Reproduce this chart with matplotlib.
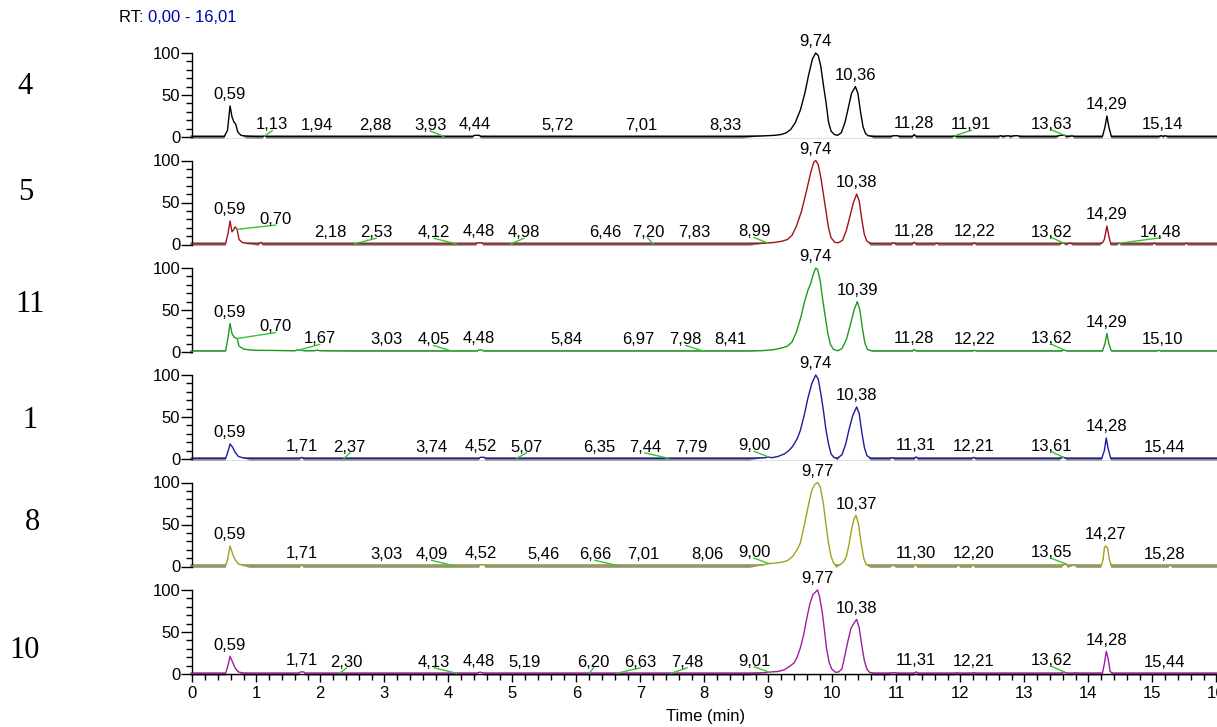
import numpy as np
import matplotlib
matplotlib.use("Agg")
import matplotlib.pyplot as plt
from matplotlib.ticker import FixedLocator, MultipleLocator

plt.rcParams['font.family'] = ['Liberation Sans', 'DejaVu Sans']

# ---------------------------------------------------------------- data
samples = ['4', '5', '11', '1', '8', '10']
colors = ['#000000', '#a01418', '#1f9a1f', '#1c1ca0', '#a3a01c', '#a01ca0']

# chromatogram vertices: retention time (min) and relative abundance (%)
t_4 = [0.00, 0.50, 0.55, 0.59, 0.62, 0.65, 0.68, 0.71, 0.76, 0.85, 1.00, 1.10, 1.13, 1.16,
       4.38, 4.41, 4.48, 4.51, 8.60, 8.90, 9.10, 9.20, 9.28, 9.35, 9.42, 9.50, 9.57, 9.63,
       9.69, 9.74, 9.78, 9.82, 9.86, 9.90, 9.94, 9.98, 10.03, 10.08, 10.14, 10.20, 10.25,
       10.30, 10.36, 10.40, 10.44, 10.48, 10.52, 10.56, 10.65, 10.92, 10.95, 11.02, 11.05,
       11.25, 11.28, 11.31, 11.88, 11.91, 11.94, 12.60, 12.63, 12.66, 12.75, 12.78, 12.85,
       12.90, 12.93, 13.50, 13.56, 13.63, 13.66, 13.75, 13.78, 14.22, 14.26, 14.29, 14.32,
       14.36, 15.10, 15.14, 15.17, 15.20, 15.24, 16.01]
y_4 = [0.6, 0.6, 8, 37, 24, 18, 15, 6, 2, 1, 0.6, 0.6, 1.2, 0.6,
       0.6, 2, 2, 0.6, 0.6, 1.2, 2, 3, 5, 9, 17, 32, 52, 74,
       93, 100, 97, 84, 62, 42, 18, 7, 3, 2, 5, 18, 35,
       52, 60, 52, 30, 12, 4, 1.5, 0.6, 0.6, 1.5, 1.5, 0.6,
       0.6, 3, 0.6, 0.6, 1.5, 0.6, 0.6, 1.5, 0.6, 1.5, 0.6, 1.5,
       1.5, 0.6, 0.6, 2, 2, 0.6, 1.2, 0.6, 0.6, 12, 25, 12,
       0.6, 0.6, 1.5, 0.6, 1.5, 0.6, 0.6]

t_5 = [0.00, 0.52, 0.56, 0.59, 0.62, 0.64, 0.67, 0.70, 0.73, 0.78, 0.86, 1.04, 1.07, 1.10,
       4.43, 4.46, 4.52, 4.55, 8.70, 8.95, 9.10, 9.22, 9.30, 9.37, 9.44, 9.52, 9.60, 9.66,
       9.71, 9.74, 9.78, 9.82, 9.86, 9.90, 9.94, 9.98, 10.04, 10.09, 10.16, 10.22, 10.27,
       10.33, 10.38, 10.42, 10.46, 10.50, 10.54, 10.60, 10.70, 10.92, 10.95, 11.00, 11.25,
       11.28, 11.31, 11.60, 11.63, 11.66, 12.19, 12.22, 12.25, 13.55, 13.60, 13.65, 13.72,
       13.76, 14.18, 14.22, 14.25, 14.29, 14.32, 14.35, 14.45, 14.48, 14.51, 15.00, 15.03,
       15.06, 15.50, 15.53, 15.56, 16.01]
y_5 = [0.8, 0.8, 14, 28, 15, 17, 21, 18, 6, 2.5, 1.2, 0.8, 2.5, 0.8,
       0.8, 2, 2, 0.8, 0.8, 1.5, 2.5, 4, 6, 11, 22, 40, 65, 85,
       98, 100, 95, 80, 60, 40, 20, 8, 2.5, 2, 5, 17, 32,
       50, 60, 52, 30, 12, 4, 1, 0.8, 0.8, 2, 0.8, 0.8,
       2.5, 0.8, 0.8, 1.5, 0.8, 0.8, 1.8, 0.8, 0.8, 2, 0.8, 1.5,
       0.8, 0.8, 2, 6, 22, 10, 0.8, 0.8, 1.5, 0.8, 0.8, 1.5,
       0.8, 0.8, 1.3, 0.8, 0.8]

t_11 = [0.00, 0.52, 0.56, 0.59, 0.62, 0.65, 0.70, 0.73, 0.80, 0.90, 1.00, 1.30, 1.60, 1.64,
        1.70, 1.74, 1.90, 1.95, 2.00, 2.50, 4.45, 4.48, 4.52, 4.55, 8.70, 8.95, 9.10, 9.22,
        9.30, 9.37, 9.44, 9.51, 9.57, 9.62, 9.66, 9.70, 9.74, 9.77, 9.81, 9.85, 9.89, 9.93,
        9.97, 10.02, 10.08, 10.15, 10.22, 10.28, 10.34, 10.39, 10.43, 10.47, 10.51, 10.55,
        10.62, 11.25, 11.28, 11.31, 12.19, 12.22, 12.25, 13.58, 13.62, 13.66, 14.22, 14.26,
        14.29, 14.32, 14.36, 15.07, 15.10, 15.13, 16.01]
y_11 = [1.2, 1.2, 18, 34, 22, 18, 16, 7, 3.5, 2.5, 2, 1.8, 1.5, 2.5,
        2.5, 1.5, 1.5, 2.2, 1.5, 1.2, 1.2, 2.5, 2.5, 1.2, 1.2, 1.8, 3, 5,
        7, 12, 24, 42, 61, 74, 81, 92, 100, 98, 85, 62, 42, 22,
        9, 3, 1.5, 4, 15, 32, 50, 60, 50, 28, 10, 3,
        1.2, 1.2, 3, 1.2, 1.2, 2, 1.2, 1.2, 2.5, 1.2, 1.2, 10,
        22, 10, 1.2, 1.2, 2, 1.2, 1.2]

t_1 = [0.00, 0.52, 0.55, 0.59, 0.63, 0.67, 0.72, 0.80, 0.90, 1.68, 1.71, 1.74, 4.48, 4.50,
       4.56, 4.58, 8.70, 8.95, 9.00, 9.05, 9.15, 9.25, 9.32, 9.38, 9.45, 9.50, 9.56, 9.62,
       9.68, 9.74, 9.78, 9.82, 9.86, 9.90, 9.94, 9.98, 10.03, 10.08, 10.15, 10.21, 10.26,
       10.32, 10.38, 10.42, 10.46, 10.50, 10.54, 10.60, 10.70, 10.90, 10.93, 10.98, 11.28,
       11.31, 11.34, 12.18, 12.21, 12.24, 13.55, 13.61, 13.66, 14.21, 14.25, 14.28, 14.31,
       14.35, 16.01]
y_1 = [0.8, 0.8, 7, 18, 14, 8, 3, 1.2, 0.8, 0.8, 2, 0.8, 0.8, 2,
       2, 0.8, 0.8, 1.5, 2.5, 1.5, 3, 6, 10, 15, 24, 34, 52, 73,
       90, 100, 95, 78, 58, 35, 18, 6, 1.5, 1, 5, 18, 35,
       52, 62, 54, 32, 14, 4, 1, 0.8, 0.8, 1.5, 0.8, 0.8,
       2.5, 0.8, 0.8, 2, 0.8, 0.8, 2, 0.8, 0.8, 10, 25, 12,
       0.8, 0.8]

t_8 = [0.00, 0.52, 0.55, 0.59, 0.63, 0.67, 0.72, 0.80, 0.90, 1.68, 1.71, 1.74, 4.48, 4.50,
       4.56, 4.58, 8.70, 8.90, 9.00, 9.10, 9.20, 9.30, 9.38, 9.45, 9.50, 9.55, 9.60, 9.64,
       9.68, 9.73, 9.77, 9.81, 9.86, 9.90, 9.94, 9.98, 10.02, 10.06, 10.12, 10.18, 10.22,
       10.26, 10.30, 10.34, 10.37, 10.41, 10.45, 10.49, 10.53, 10.60, 10.90, 10.95, 11.00,
       11.27, 11.30, 11.33, 11.94, 11.97, 12.00, 12.17, 12.20, 12.23, 13.58, 13.62, 13.65,
       13.68, 13.78, 13.82, 14.20, 14.23, 14.25, 14.27, 14.30, 14.33, 14.36, 15.25, 15.28,
       15.31, 16.01]
y_8 = [0.8, 0.8, 8, 24.5, 15, 8, 3, 1.2, 0.8, 0.8, 2, 0.8, 0.8, 2,
       2, 0.8, 0.8, 1.5, 3.5, 4, 5, 7, 12, 20, 28, 45, 63, 78,
       91, 98, 100, 95, 75, 50, 28, 12, 4, 1, 2, 6, 12,
       26, 44, 57, 61, 50, 28, 10, 2, 0.8, 0.8, 1.5, 0.8,
       0.8, 2.5, 0.8, 0.8, 1.5, 0.8, 0.8, 2, 0.8, 0.8, 2, 3,
       0.8, 1.5, 0.8, 0.8, 8, 22, 24.5, 22, 8, 0.8, 0.8, 1.5,
       0.8, 0.8]

t_10 = [0.00, 0.52, 0.55, 0.59, 0.63, 0.67, 0.72, 0.80, 0.90, 1.66, 1.69, 1.74, 1.77, 4.45,
        4.48, 4.52, 4.55, 8.70, 8.95, 9.05, 9.15, 9.25, 9.33, 9.40, 9.45, 9.50, 9.55, 9.60,
        9.65, 9.70, 9.77, 9.80, 9.84, 9.88, 9.91, 9.95, 9.99, 10.05, 10.10, 10.15, 10.19,
        10.24, 10.29, 10.34, 10.38, 10.42, 10.46, 10.50, 10.54, 10.58, 10.65, 10.90, 10.93,
        10.98, 11.01, 11.28, 11.31, 11.34, 11.92, 11.95, 11.98, 12.18, 12.21, 12.24, 13.58,
        13.62, 13.66, 13.76, 13.80, 13.84, 14.22, 14.25, 14.28, 14.31, 14.34, 14.38, 16.01]
y_10 = [0.8, 0.8, 8, 21, 14, 7, 2.5, 1, 0.8, 0.8, 2.5, 2.5, 0.8, 0.8,
        2, 2, 0.8, 0.8, 1.5, 2.5, 3, 5, 9, 13, 20, 31, 46, 66,
        84, 95, 100, 92, 75, 50, 30, 14, 6, 2, 2.5, 6, 20,
        38, 54, 61, 65, 55, 34, 16, 6, 2, 0.8, 0.8, 1.5,
        1.5, 0.8, 0.8, 2.5, 0.8, 0.8, 1.5, 0.8, 0.8, 1.8, 0.8, 0.8,
        2.5, 0.8, 0.8, 1.5, 0.8, 0.8, 12, 27, 18, 3, 0.8, 0.8]

traces_t = [t_4, t_5, t_11, t_1, t_8, t_10]
traces_y = [y_4, y_5, y_11, y_1, y_8, y_10]

# annotated retention times and where each annotation sits along the time axis
rt_4 = ['0,59', '1,13', '1,94', '2,88', '3,93', '4,44', '5,72', '7,01', '8,33', '9,74',
        '10,36', '11,28', '11,91', '13,63', '14,29', '15,14']
at_4 = [0.59, 1.25, 1.94, 2.86, 3.72, 4.42, 5.70, 7.01, 8.33, 9.74,
        10.36, 11.28, 12.17, 13.42, 14.29, 15.16]
rt_5 = ['0,59', '0,70', '2,18', '2,53', '4,12', '4,48', '4,98', '6,46', '7,20', '7,83',
        '8,99', '9,74', '10,38', '11,28', '12,22', '13,62', '14,29', '14,48']
at_5 = [0.59, 1.30, 2.15, 2.87, 3.78, 4.48, 5.18, 6.45, 7.12, 7.84,
        8.78, 9.74, 10.38, 11.28, 12.22, 13.43, 14.29, 15.13]
rt_11 = ['0,59', '0,70', '1,67', '3,03', '4,05', '4,48', '5,84', '6,97', '7,98', '8,41',
         '9,74', '10,39', '11,28', '12,22', '13,62', '14,29', '15,10']
at_11 = [0.59, 1.30, 1.99, 3.03, 3.77, 4.48, 5.84, 6.97, 7.71, 8.41,
         9.74, 10.39, 11.28, 12.22, 13.43, 14.29, 15.16]
rt_1 = ['0,59', '1,71', '2,37', '3,74', '4,52', '5,07', '6,35', '7,44', '7,79', '9,00',
        '9,74', '10,38', '11,31', '12,21', '13,61', '14,28', '15,44']
at_1 = [0.59, 1.71, 2.46, 3.74, 4.50, 5.22, 6.36, 7.07, 7.80, 8.78,
        9.74, 10.38, 11.30, 12.21, 13.43, 14.28, 15.19]
rt_8 = ['0,59', '1,71', '3,03', '4,09', '4,52', '5,46', '6,66', '7,01', '8,06', '9,00',
        '9,77', '10,37', '11,30', '12,20', '13,65', '14,27', '15,28']
at_8 = [0.59, 1.71, 3.03, 3.74, 4.50, 5.48, 6.29, 7.04, 8.04, 8.78,
        9.77, 10.37, 11.30, 12.20, 13.43, 14.27, 15.19]
rt_10 = ['0,59', '1,71', '2,30', '4,13', '4,48', '5,19', '6,20', '6,63', '7,48', '9,01',
         '9,77', '10,38', '11,31', '12,21', '13,62', '14,28', '15,44']
at_10 = [0.59, 1.71, 2.41, 3.78, 4.48, 5.19, 6.27, 7.00, 7.73, 8.78,
         9.77, 10.38, 11.31, 12.21, 13.43, 14.28, 15.19]

rt_lists = [rt_4, rt_5, rt_11, rt_1, rt_8, rt_10]
at_lists = [at_4, at_5, at_11, at_1, at_8, at_10]
# annotations raised above the default height (relative abundance of text baseline)
raised = {1: {'0,70': 24.6}, 2: {'0,70': 24.6}}
# annotations pushed to the right edge without a connector
no_leader = {'15,44', '15,28', '15,10', '15,14'}

# ---------------------------------------------------------------- layout
W, H = 1217, 727
fig = plt.figure(figsize=(W / 100, H / 100), dpi=100)

x0_px = 192.3
base_px = [137, 244.5, 352, 459, 566.5, 674]
unit_px = 0.84
panel_px = 107.4
ytop = panel_px / unit_px
# sample name positions (pixels from the top-left corner)
name_xy = [(25, 86), (26, 193), (30, 305), (30, 420), (32, 523), (25, 651)]

for i, name in enumerate(samples):
    t = np.asarray(traces_t[i], float)
    y = np.asarray(traces_y[i], float)
    col = colors[i]
    last = i == len(samples) - 1

    ax = fig.add_axes([x0_px / W, (H - base_px[i]) / H, 1 - x0_px / W, panel_px / H])
    ax.set_xlim(0, 16.01)
    ax.set_ylim(0, ytop)
    ax.patch.set_alpha(0)
    for s in ('top', 'right'):
        ax.spines[s].set_visible(False)
    ax.spines['left'].set_bounds(0, 100)
    ax.spines['left'].set_linewidth(1.0)

    # y axis
    ax.yaxis.set_major_locator(FixedLocator([0, 50, 100]))
    ax.yaxis.set_minor_locator(FixedLocator(list(range(0, 101, 10))))
    ax.tick_params(axis='y', which='major', length=7.7, width=1.0, pad=1.0, labelsize=12)
    ax.tick_params(axis='y', which='minor', length=4.0, width=1.0)

    # x axis only on the bottom panel
    if last:
        ax.spines['bottom'].set_linewidth(1.0)
        ax.xaxis.set_major_locator(MultipleLocator(1))
        ax.xaxis.set_minor_locator(MultipleLocator(0.2))
        ax.tick_params(axis='x', which='major', length=5.5, width=1.0, pad=3.5, labelsize=12)
        ax.tick_params(axis='x', which='minor', length=4.2, width=1.0)
    else:
        ax.spines['bottom'].set_visible(False)
        ax.tick_params(axis='x', which='both', bottom=False, labelbottom=False)

    # baseline band, white peak areas, then the trace
    ax.axhline(0.4, color='#8f8f8f', lw=2.6, zorder=1, clip_on=False)
    ax.fill_between(t, -2.0, y, where=y > 1.1, interpolate=True, color='white',
                    lw=0, zorder=1.5, clip_on=False)
    ax.plot(t, y, color=col, lw=1.0, zorder=3, clip_on=False)

    # retention-time annotations
    for rt, at in zip(rt_lists[i], at_lists[i]):
        tp = float(rt.replace(',', '.'))
        hp = float(np.interp(tp, t, y))
        ylab = raised.get(i, {}).get(rt, hp + 8)
        ax.text(at, ylab, rt, ha='center', va='baseline', fontsize=12, zorder=4)
        if abs(at - tp) > 0.06 and rt not in no_leader:
            ax.plot([at, tp], [ylab - 1.5, hp], color='#35c435', lw=1.0, zorder=3.5,
                    clip_on=False)

    nx, ny = name_xy[i]
    fig.text(nx / W, 1 - ny / H, name, ha='center', va='center',
             fontsize=22, family=['Liberation Serif', 'DejaVu Serif'])

fig.text(706 / W, 1 - 716 / H, 'Time (min)', ha='center', va='center', fontsize=12)

# retention time window caption
rt_lab = fig.text(119 / W, 1 - 18 / H, 'RT: ', ha='left', va='center', fontsize=12)
fig.canvas.draw()
bb = rt_lab.get_window_extent()
fig.text(bb.x1 / W, 1 - 18 / H, '0,00 - 16,01', ha='left', va='center', fontsize=12,
         color='#0000b4')

fig.savefig('out.png', dpi=100)
